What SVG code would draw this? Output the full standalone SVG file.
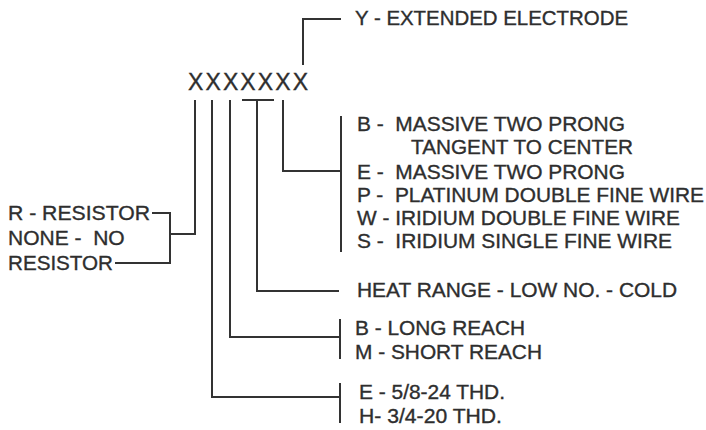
<svg xmlns="http://www.w3.org/2000/svg" width="706" height="430" viewBox="0 0 706 430">
<style>
text{font-family:"Liberation Sans",Arial,sans-serif;fill:#2e2e2e;stroke:#2e2e2e;stroke-width:0.35;white-space:pre}
.r{font-size:20.5px}
.l{font-size:21px}
.c{fill:none;stroke:#333;stroke-width:2;stroke-linecap:square}
</style>
<rect width="706" height="430" fill="#fff"/>
<g id="code"><text x="188" y="90" font-size="23" textLength="120" lengthAdjust="spacing">XXXXXXX</text></g>
<g id="connectors">
<polyline class="c" points="303,64 303,19 340,19"/>
<polyline class="c" points="283,101 283,171 340,171"/>
<line class="c" x1="341" y1="117" x2="341" y2="251"/>
<polyline class="c" points="243,100 273,100"/>
<polyline class="c" points="257,100 257,291 338,291"/>
<polyline class="c" points="230,101 230,337 339,337"/>
<line class="c" x1="340" y1="320" x2="340" y2="358"/>
<polyline class="c" points="212,101 212,397 339,397"/>
<line class="c" x1="340" y1="384" x2="340" y2="422"/>
<polyline class="c" points="195,101 195,234 171,234"/>
<polyline class="c" points="153,213 170,213 170,263 116,263"/>
</g>
<g id="electrode"><text class="r" x="355" y="25" textLength="273" lengthAdjust="spacingAndGlyphs">Y - EXTENDED ELECTRODE</text></g>
<g id="gap-style">
<text class="r" x="357" y="131" textLength="268" lengthAdjust="spacingAndGlyphs">B -  MASSIVE TWO PRONG</text>
<text class="r" x="411" y="154" textLength="222" lengthAdjust="spacingAndGlyphs">TANGENT TO CENTER</text>
<text class="r" x="357" y="179" textLength="268" lengthAdjust="spacingAndGlyphs">E -  MASSIVE TWO PRONG</text>
<text class="r" x="357" y="202" textLength="347" lengthAdjust="spacingAndGlyphs">P -  PLATINUM DOUBLE FINE WIRE</text>
<text class="r" x="357" y="225" textLength="323" lengthAdjust="spacingAndGlyphs">W - IRIDIUM DOUBLE FINE WIRE</text>
<text class="r" x="357" y="248" textLength="315" lengthAdjust="spacingAndGlyphs">S -  IRIDIUM SINGLE FINE WIRE</text>
</g>
<g id="heat-range"><text class="r" x="357" y="297" textLength="320" lengthAdjust="spacingAndGlyphs">HEAT RANGE - LOW NO. - COLD</text></g>
<g id="reach">
<text class="r" x="355" y="335" textLength="170" lengthAdjust="spacingAndGlyphs">B - LONG REACH</text>
<text class="r" x="355" y="359" textLength="187" lengthAdjust="spacingAndGlyphs">M - SHORT REACH</text>
</g>
<g id="thread">
<text class="r" x="359" y="399" textLength="146" lengthAdjust="spacingAndGlyphs">E - 5/8-24 THD.</text>
<text class="r" x="359" y="423" textLength="143" lengthAdjust="spacingAndGlyphs">H- 3/4-20 THD.</text>
</g>
<g id="resistor">
<text class="l" x="8" y="220" textLength="142" lengthAdjust="spacingAndGlyphs">R - RESISTOR</text>
<text class="l" x="8" y="245">NONE -  NO</text>
<text class="l" x="8" y="270" textLength="105" lengthAdjust="spacingAndGlyphs">RESISTOR</text>
</g>
</svg>
